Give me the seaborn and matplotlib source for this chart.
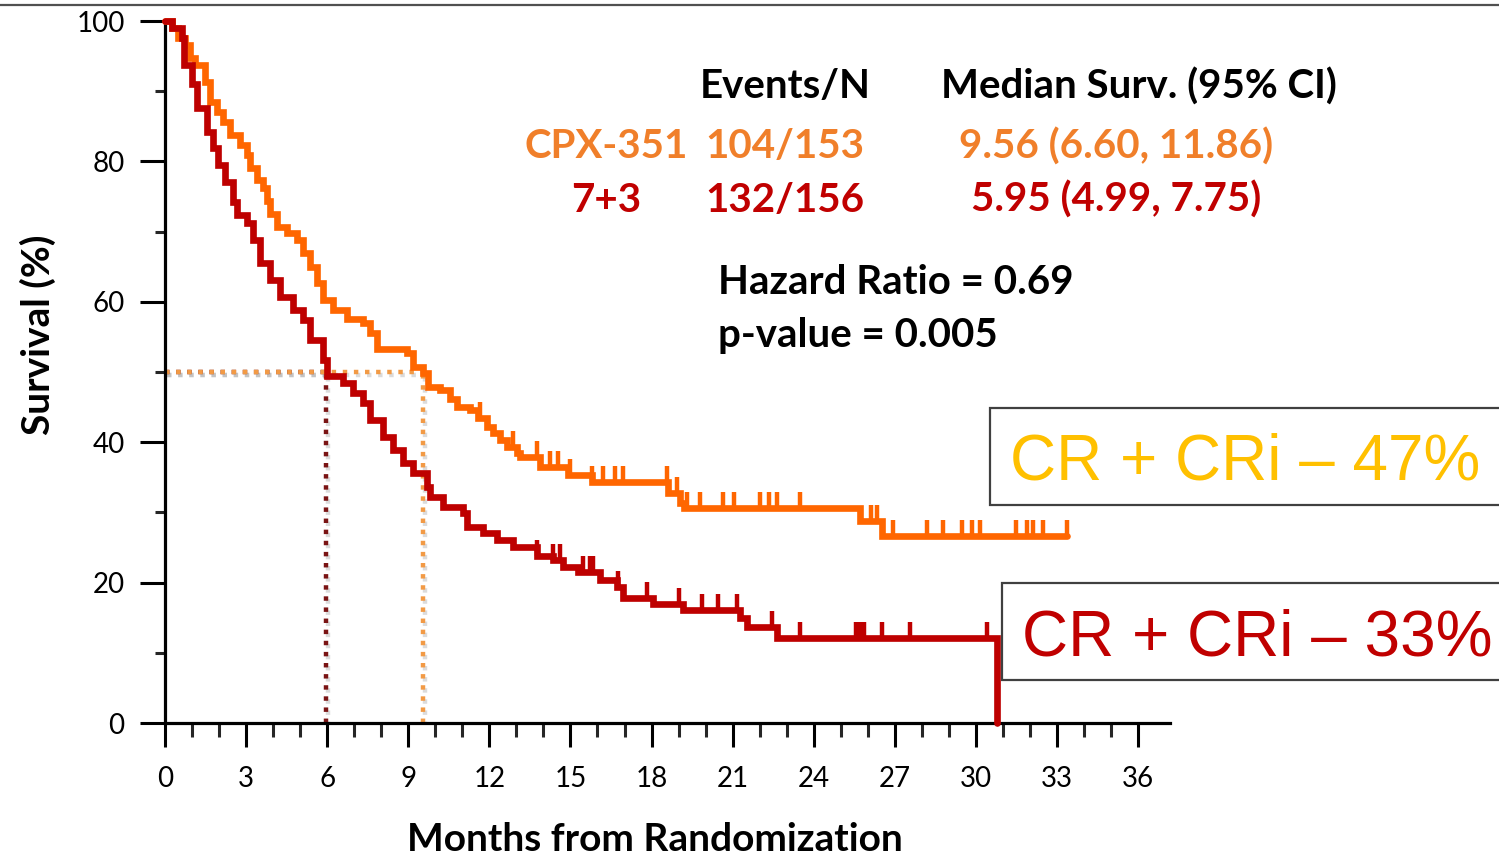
import numpy as np
import matplotlib
matplotlib.use("Agg")
import matplotlib.pyplot as plt
import matplotlib.patheffects as pe
from matplotlib.path import Path
from matplotlib.patches import Rectangle
from matplotlib.lines import Line2D
import seaborn as sns

# ---- Kaplan-Meier estimates (months, survival %) ----
cpx_time = [0, 0.26, 0.48, 0.74, 0.92, 1.11, 1.48, 1.66, 1.92, 2.15, 2.40, 2.77,
            3.03, 3.14, 3.40, 3.63, 3.77, 3.88, 4.14, 4.51, 4.88, 5.11, 5.36,
            5.62, 5.85, 6.22, 6.73, 7.33, 7.58, 7.84, 8.95, 9.18, 9.54, 9.73,
            10.17, 10.54, 10.80, 11.28, 11.58, 11.91, 12.13, 12.39, 12.65,
            13.02, 13.13, 13.87, 14.91, 15.80, 18.61, 19.06, 19.20, 25.71,
            26.53, 33.37]
cpx_surv = [100, 99.0, 97.6, 96.6, 94.7, 93.7, 91.3, 88.5, 87.0, 85.6, 83.8, 82.3,
            80.9, 79.0, 77.4, 76.2, 74.3, 72.5, 70.7, 69.8, 68.8, 67.0, 65.0,
            62.7, 60.3, 58.8, 57.6, 57.0, 55.6, 53.3, 52.7, 50.7, 49.9, 47.9,
            47.4, 46.2, 45.0, 44.6, 43.4, 42.2, 41.3, 40.3, 39.3,
            38.5, 37.9, 36.5, 35.3, 34.3, 32.8, 31.3, 30.6, 28.8,
            26.6, 26.6]
cpx_censor = [11.65, 12.87, 13.76, 14.24, 14.55, 15.0, 15.8, 16.2, 16.65, 16.95,
              18.57, 18.95, 19.3, 19.8, 20.64, 21.05, 22.0, 22.35, 22.64, 23.49,
              26.1, 26.35, 26.95, 28.2, 28.8, 29.5, 29.85, 30.15, 31.5, 31.9,
              32.1, 32.5, 33.37]

ctl_time = [0, 0.26, 0.63, 0.70, 1.00, 1.18, 1.55, 1.78, 1.96, 2.22, 2.52, 2.66,
            3.03, 3.26, 3.51, 3.88, 4.25, 4.74, 5.11, 5.36, 5.85, 5.99, 6.59,
            6.96, 7.33, 7.58, 8.07, 8.44, 8.81, 9.18, 9.69, 9.80, 10.28, 11.02,
            11.17, 11.76, 12.28, 12.87, 13.76, 14.35, 14.72, 15.28, 16.09,
            16.72, 16.95, 18.05, 19.16, 21.27, 21.53, 22.64, 30.78]
ctl_surv = [100, 99.0, 97.6, 93.7, 91.0, 87.6, 84.2, 81.9, 79.5, 77.0, 74.2, 72.4,
            71.2, 68.8, 65.5, 63.1, 60.7, 58.8, 57.4, 54.6, 51.7, 49.5, 48.4,
            47.0, 45.6, 43.2, 40.7, 38.9, 37.0, 35.6, 33.6, 32.2, 30.8, 29.9,
            27.9, 27.1, 26.1, 25.1, 23.8, 23.2, 22.2, 21.5, 20.4,
            19.4, 17.8, 16.9, 16.1, 15.0, 13.7, 12.1, 0]
ctl_censor = [13.76, 14.35, 14.6, 15.46, 15.72, 15.85, 16.75, 17.83, 19.0, 19.85,
              20.45, 21.16, 22.46, 23.5, 25.55, 25.7, 25.85, 26.53, 27.56, 30.41]

arms = ["CPX-351", "7+3"]
events_n = ["104/153", "132/156"]
median_ci = ["9.56 (6.60, 11.86)", "5.95 (4.99, 7.75)"]
medians = [9.56, 5.95]
hazard_text = ["Hazard Ratio = 0.69", "p-value = 0.005"]
response_text = ["CR + CRi \u2013 47%", "CR + CRi \u2013 33%"]

x_ticks = list(range(0, 37, 3))
y_ticks = [0, 20, 40, 60, 80, 100]

# ---- styling ----
curve_colors = ["#FF6600", "#BE0000"]
text_colors = ["#F07F2A", "#C00000"]
median_colors = ["#F29A45", "#7A1414"]
box_colors = ["#FFC000", "#C00000"]

sns.set_theme(style="ticks")
plt.rcParams["font.family"] = ["Lato", "DejaVu Sans"]

W, H = 1499, 861
fig = plt.figure(figsize=(W / 100, H / 100), dpi=100)


def fx(px):
    return px / W


def fy(py):
    return 1 - py / H


ax_l, ax_r, ax_t, ax_b = 165, 1170, 21, 723
ax = fig.add_axes([fx(ax_l), fy(ax_b), fx(ax_r) - fx(ax_l), fy(ax_t) - fy(ax_b)])
ax.set_xlim(0, 37.18)
ax.set_ylim(0, 100)

# median reference lines at 50% survival
shadow = [pe.SimpleLineShadow(offset=(1.5, -2), shadow_color="#9a9a9a", alpha=0.35),
          pe.Normal()]
for m, c in sorted(zip(medians, median_colors)):
    ax.plot([m, m], [0, 50], ls=(0, (1, 1.5)), lw=3.2, color=c, zorder=2,
            path_effects=shadow)
for m, c in sorted(zip(medians, median_colors)):
    ax.plot([0, m], [50, 50], ls=(0, (1, 1.5)), lw=3.2, color=c, zorder=2,
            path_effects=shadow)

# survival curves with censoring ticks
tick_marker = Path([[0, 0], [0, 1]])
for t, s, cens, col in [(cpx_time, cpx_surv, cpx_censor, curve_colors[0]),
                        (ctl_time, ctl_surv, ctl_censor, curve_colors[1])]:
    sns.lineplot(x=t, y=s, drawstyle="steps-post", color=col, linewidth=4.8,
                 estimator=None, sort=False, ax=ax, clip_on=False, zorder=3,
                 solid_joinstyle="miter")
    idx = np.searchsorted(np.asarray(t), np.asarray(cens), side="right") - 1
    cs = np.asarray(s)[idx]
    ax.plot(cens, cs, ls="none", marker=tick_marker, markersize=23,
            markeredgewidth=3.2, color=col, clip_on=False, zorder=3)

# axes, ticks
for side in ["top", "right"]:
    ax.spines[side].set_visible(False)
for side in ["left", "bottom"]:
    ax.spines[side].set_linewidth(2.3)
    ax.spines[side].set_color("black")
ax.set_xticks(x_ticks)
ax.set_xticks(range(0, 37), minor=True)
ax.set_yticks(y_ticks)
ax.set_yticks(range(10, 100, 20), minor=True)
ax.tick_params(axis="x", which="major", direction="out", length=17, width=2.2,
               pad=14, labelsize=20, colors="black")
ax.tick_params(axis="x", which="minor", direction="out", length=10, width=2.2)
ax.tick_params(axis="y", which="major", direction="out", length=18, width=2.2,
               pad=11, labelsize=20, colors="black")
ax.tick_params(axis="y", which="minor", direction="out", length=7, width=2.2)
ax.set_xlabel("Months from Randomization", fontsize=28, fontweight="bold",
              color="black")
ax.set_ylabel("Survival (%)", fontsize=28, fontweight="bold", color="black")
span_x = fx(ax_r) - fx(ax_l)
span_y = fy(ax_t) - fy(ax_b)
ax.xaxis.set_label_coords((fx(655) - fx(ax_l)) / span_x,
                          (fy(822) - fy(ax_b)) / span_y)
ax.yaxis.set_label_coords((fx(56) - fx(ax_l)) / span_x,
                          (fy(335) - fy(ax_b)) / span_y)

# summary table
fs = 29
fig.text(fx(785), fy(87), "Events/N", ha="center", va="center", fontsize=fs,
         fontweight="bold", color="black")
fig.text(fx(1139), fy(87), "Median Surv. (95% CI)", ha="center", va="center",
         fontsize=fs, fontweight="bold", color="black")
for i, yrow in enumerate([147, 200]):
    fig.text(fx(606), fy(yrow), arms[i], ha="center", va="center", fontsize=fs,
             fontweight="bold", color=text_colors[i])
    fig.text(fx(785), fy(yrow), events_n[i], ha="center", va="center",
             fontsize=fs, fontweight="bold", color=text_colors[i])
    fig.text(fx(1116), fy(yrow), median_ci[i], ha="center", va="center",
             fontsize=fs, fontweight="bold", color=text_colors[i])
fig.text(fx(718), fy(283), hazard_text[0], ha="left", va="center", fontsize=fs,
         fontweight="bold", color="black")
fig.text(fx(718), fy(335), hazard_text[1], ha="left", va="center", fontsize=fs,
         fontweight="bold", color="black")

# response rate call-outs
for (x0, y0, y1, tx), txt, col in zip([(990, 408, 505, 1010), (1002, 583, 680, 1022)],
                                      response_text, box_colors):
    fig.patches.append(Rectangle((fx(x0), fy(y1)), fx(W + 20) - fx(x0),
                                 fy(y0) - fy(y1), transform=fig.transFigure,
                                 facecolor="white", edgecolor="#404040",
                                 linewidth=1.6, zorder=5))
    fig.text(fx(tx), fy((y0 + y1) / 2), txt, ha="left", va="center_baseline",
             fontsize=46, color=col, family=["Liberation Sans", "DejaVu Sans"],
             zorder=6)

# header rule
fig.add_artist(Line2D([0, 1], [fy(5), fy(5)], transform=fig.transFigure,
                      color="#505050", linewidth=1.6))

fig.savefig("out.png", dpi=100)
